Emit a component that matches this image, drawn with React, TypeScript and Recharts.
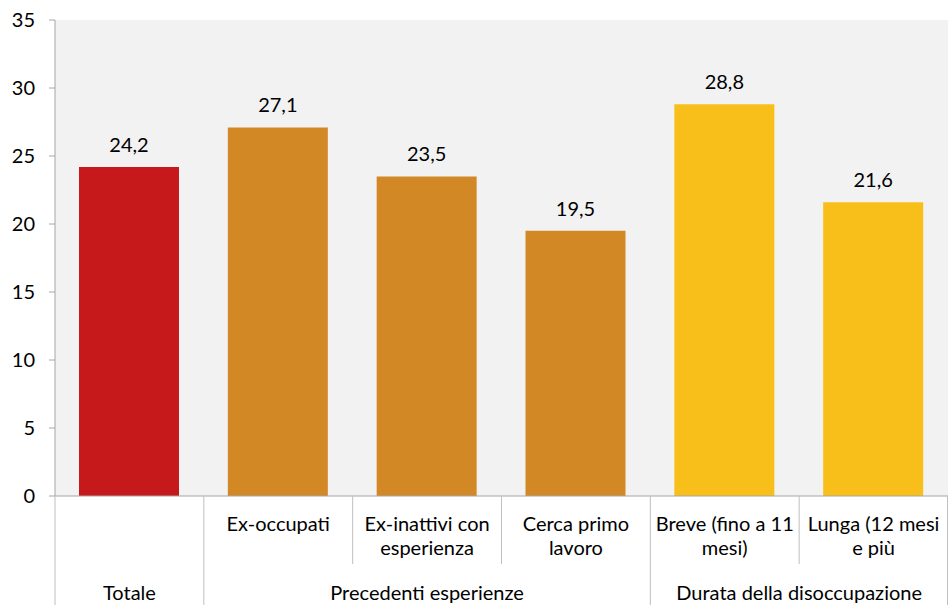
import React from "react"
import { BarChart, Bar, XAxis, YAxis, CartesianGrid, LabelList, Cell } from "recharts"

const categories = [
  "Totale",
  "Ex-occupati",
  "Ex-inattivi con esperienza",
  "Cerca primo lavoro",
  "Breve (fino a 11 mesi)",
  "Lunga (12 mesi e più",
]
// category label split on two lines as in the reference
const labelLines = [
  [],
  ["Ex-occupati"],
  ["Ex-inattivi con", "esperienza"],
  ["Cerca primo", "lavoro"],
  ["Breve (fino a 11", "mesi)"],
  ["Lunga (12 mesi", "e più"],
]
const groups = [
  "Totale",
  "Precedenti esperienze",
  "Precedenti esperienze",
  "Precedenti esperienze",
  "Durata della disoccupazione",
  "Durata della disoccupazione",
]
const values = [24.2, 27.1, 23.5, 19.5, 28.8, 21.6]
const barColors = ["#C5191C", "#D38826", "#D38826", "#D38826", "#F8BF1A", "#F8BF1A"]
const yTicks = [0, 5, 10, 15, 20, 25, 30, 35]

const data = categories.map((name, i) => ({ name, value: values[i] }))

const FONT = "Lato, 'Open Sans', sans-serif"
const FS = 20
const SEP = "#BFBFBF"

function CategoryTick(props: any) {
  const { x, y, payload } = props
  const i: number = payload.index ?? props.index
  const half: number = payload.offset || 893 / 12
  const left = x - half
  const bottom = y + 109
  const firstOfGroup = i === 0 || groups[i] !== groups[i - 1]
  let groupLabel = null
  if (firstOfGroup) {
    let n = 1
    while (i + n < groups.length && groups[i + n] === groups[i]) n++
    groupLabel = (
      <text x={left + n * half} y={y + 104} textAnchor="middle" fill="#000" fontSize={FS} fontFamily={FONT}>
        {groups[i]}
      </text>
    )
  }
  return (
    <g>
      <line x1={left} x2={left} y1={y} y2={firstOfGroup ? bottom : y + 68} stroke={SEP} />
      {i === groups.length - 1 && (
        <line x1={x + half - 0.5} x2={x + half - 0.5} y1={y} y2={bottom} stroke={SEP} />
      )}
      {labelLines[i].map((line, k) => (
        <text key={k} x={x} y={y + 35 + k * 24} textAnchor="middle" fill="#000" fontSize={FS} fontFamily={FONT}>
          {line}
        </text>
      ))}
      {groupLabel}
    </g>
  )
}

export default function App() {
  return (
    <div style={{ position: "absolute", left: 0, top: 0, background: "#fff" }}>
      <BarChart width={948} height={605} data={data} margin={{ top: 20, right: 0, left: 0, bottom: 0 }}>
        <CartesianGrid fill="#F2F2F2" stroke="none" horizontal={false} vertical={false} />
        <XAxis
          dataKey="name"
          height={109}
          interval={0}
          tickLine={false}
          tickSize={0}
          tickMargin={0}
          axisLine={{ stroke: "#A6A6A6" }}
          tick={<CategoryTick />}
        />
        <YAxis
          domain={[0, 35]}
          ticks={yTicks}
          width={55}
          axisLine={{ stroke: "#A6A6A6" }}
          tickLine={{ stroke: "#A6A6A6" }}
          tickSize={6}
          tickMargin={14}
          tick={{ fill: "#000", fontSize: FS, fontFamily: FONT }}
        />
        <Bar dataKey="value" barSize={100} isAnimationActive={false}>
          {data.map((d, i) => (
            <Cell key={d.name} fill={barColors[i]} />
          ))}
          <LabelList
            dataKey="value"
            position="top"
            offset={15}
            fill="#000"
            fontSize={FS}
            fontFamily={FONT}
            formatter={(v: any) => String(v).replace(".", ",")}
          />
        </Bar>
      </BarChart>
    </div>
  )
}
